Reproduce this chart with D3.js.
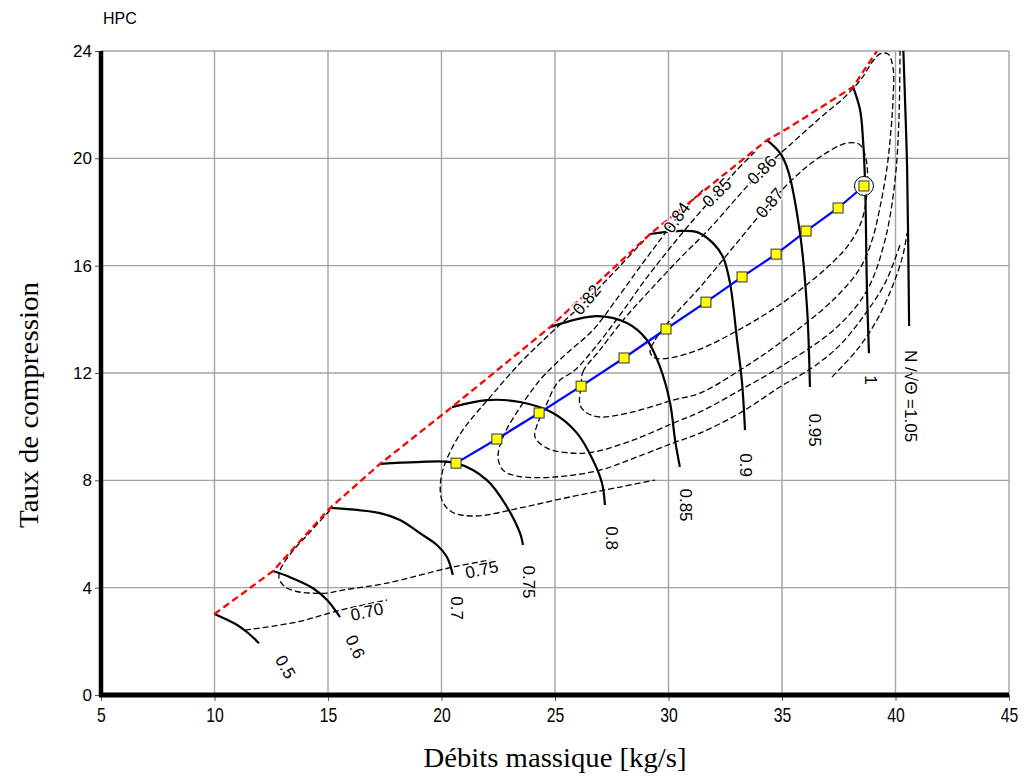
<!DOCTYPE html>
<html>
<head>
<meta charset="utf-8">
<script src="https://cdn.jsdelivr.net/npm/d3@7"></script>
<style>
  body { margin: 0; background: #fff; }
  svg { display: block; }
</style>
</head>
<body>
<svg id="chart" width="1026" height="778"></svg>
<script>
// ---- axis ticks ----
const xTicks = [5, 10, 15, 20, 25, 30, 35, 40, 45];
const yTicks = [0, 4, 8, 12, 16, 20, 24];

// ---- surge line (mass flow, pressure ratio) ----
const surgeLine = [[10.0, 3.02], [12.58, 4.62], [15.09, 6.97], [17.29, 8.61], [20.46, 10.73],
  [24.78, 13.71], [29.19, 17.18], [34.34, 20.68], [35.35, 21.17], [38.13, 22.66], [39.18, 24.0]];

// ---- corrected speed lines ----
const speed050 = [[10.0, 3.02], [11.0, 2.61], [11.48, 2.31], [11.96, 1.93]];
const speed060 = [[12.58, 4.62], [13.33, 4.39], [14.34, 3.98], [14.96, 3.54], [15.53, 2.90]];
const speed070 = [[15.09, 6.97], [17.29, 6.78], [18.17, 6.52], [19.05, 6.03], [19.8, 5.59], [20.24, 5.14], [20.5, 4.47]];
const speed075 = [[17.29, 8.61], [18.92, 8.68], [20.64, 8.64], [22.0, 8.01], [22.89, 7.0], [23.46, 6.03], [23.59, 5.59]];
const speed080 = [[20.46, 10.73], [22.0, 10.99], [23.46, 10.92], [24.91, 10.51], [25.97, 9.76], [26.67, 8.76], [27.07, 7.90], [27.2, 7.08]];
const speed085 = [[24.78, 13.71], [26.85, 14.12], [28.17, 13.86], [29.05, 13.23], [29.63, 12.22], [30.07, 10.88], [30.29, 9.5], [30.5, 8.5]];
const speed090 = [[29.19, 17.18], [30.37, 17.29], [31.26, 17.25], [31.96, 16.84], [32.4, 16.32], [32.71, 15.35], [33.02, 13.23], [33.24, 11.63], [33.37, 9.87]];
const speed095 = [[34.34, 20.68], [34.91, 20.2], [35.26, 19.56], [35.79, 17.22], [36.1, 14.46], [36.23, 11.48]];
const speed100 = [[38.13, 22.66], [38.44, 21.8], [38.57, 20.68], [38.66, 19.08], [38.74, 15.2], [38.83, 12.74]];
const speed105 = [[40.33, 24.4], [40.42, 22.17], [40.51, 19.68], [40.6, 13.75]];
const speedNames = ["0.5", "0.6", "0.7", "0.75", "0.8", "0.85", "0.9", "0.95", "1", "N /\u221A\u0398 =1.05"];
// label anchors (mass flow, pressure ratio)
const speedLabelAt = [[13.11, 1.04], [16.19, 1.79], [20.68, 3.24], [23.85, 4.21], [27.51, 5.85],
  [30.73, 7.08], [33.41, 8.57], [36.41, 9.87], [38.92, 11.74], [40.68, 11.14]];

// ---- isentropic efficiency contours ----
const eff070 = [[11.34, 2.42], [13.63, 2.72], [15.53, 3.16], [17.6, 3.54]];
const eff075 = [[15.09, 6.89], [14.21, 6.07], [13.41, 5.33], [12.93, 4.73], [12.84, 4.36], [13.06, 4.06], [13.55, 3.87],
  [14.21, 3.80], [14.96, 3.80], [15.66, 3.91], [17.6, 4.17], [20.51, 4.77], [22.14, 5.03]];
const eff082 = [[29.19, 17.18], [27.86, 15.99], [26.41, 14.72], [24.91, 13.56], [23.46, 12.37], [22.14, 11.10],
  [21.04, 9.99], [20.37, 9.05], [19.98, 8.09], [20.02, 7.26], [20.46, 6.82], [21.48, 6.67], [23.46, 6.97],
  [25.66, 7.38], [27.86, 7.75], [29.41, 8.01]];
const eff082b = [[37.20, 11.85], [38.30, 12.86], [39.18, 13.97], [39.89, 15.28], [40.33, 16.40], [40.51, 17.22]];
const eff084 = [[31.52, 18.82], [30.86, 18.26], [30.37, 17.78], [29.63, 16.96], [28.74, 15.95], [27.78, 14.83],
  [26.67, 13.60], [25.44, 12.67], [24.34, 11.74], [23.24, 10.43], [22.71, 9.61], [22.49, 8.87], [22.71, 8.38],
  [23.33, 8.16], [24.91, 8.12], [26.98, 8.38], [28.61, 8.87], [30.20, 9.39], [31.39, 9.76], [33.15, 10.51],
  [34.91, 11.48], [36.37, 12.22], [37.55, 13.04], [38.57, 14.09], [39.54, 15.35], [40.20, 16.77]];
const eff085 = [[33.81, 20.24], [32.93, 19.49], [32.14, 18.71], [31.17, 17.78], [30.07, 16.66], [28.96, 15.46],
  [27.86, 14.16], [26.85, 13.04], [25.88, 12.11], [25.13, 11.66], [24.56, 10.70], [24.21, 10.06], [24.12, 9.61],
  [24.65, 9.20], [25.66, 9.02], [26.67, 9.05], [28.44, 9.50], [30.20, 10.13], [31.39, 10.55], [33.15, 11.36],
  [34.91, 12.22], [37.42, 13.71], [38.75, 15.09], [39.54, 16.96], [39.98, 19.19], [40.15, 21.43], [40.20, 24.0]];
const eff086 = [[26.15, 11.51], [26.23, 12.04], [26.98, 12.86], [28.08, 14.05], [29.19, 15.09], [30.51, 16.28],
  [31.83, 17.40], [32.93, 18.45], [34.12, 19.56], [35.35, 20.50], [36.67, 21.50], [37.77, 22.29], [38.52, 22.99],
  [38.97, 23.59], [39.32, 23.89], [39.67, 23.89], [39.89, 23.37], [39.89, 22.17], [39.80, 21.06], [39.63, 19.68],
  [39.32, 18.19], [38.97, 16.96], [38.44, 15.91], [37.25, 14.72], [34.91, 13.12], [33.15, 12.11], [31.39, 11.25],
  [30.20, 10.99], [28.44, 10.55], [26.98, 10.36], [26.41, 10.51], [26.10, 10.81]];
const eff087 = [[29.19, 12.78], [29.41, 13.23], [30.15, 14.05], [31.39, 15.20], [32.93, 16.77], [34.47, 18.33],
  [35.57, 19.30], [36.67, 20.05], [37.86, 20.57], [38.44, 20.50], [38.71, 19.94], [38.75, 18.82], [38.52, 17.70],
  [37.99, 16.84], [37.25, 16.14], [35.79, 15.09], [34.34, 14.23], [32.84, 13.49], [31.39, 12.89], [30.07, 12.56],
  [29.41, 12.56]];
const effNames = ["0.70", "0.75", "0.82", "0.84", "0.85", "0.86", "0.87"];
const effLabelAt = [[16.72, 3.09], [21.78, 4.66], [26.41, 14.72], [30.37, 17.78], [32.14, 18.71], [34.12, 19.56], [34.47, 18.33]];

// ---- operating line ----
const operatingLine = [[20.64, 8.64], [22.44, 9.54], [24.30, 10.51], [26.15, 11.51], [28.04, 12.56], [29.89, 13.64],
  [31.65, 14.64], [33.24, 15.58], [34.74, 16.43], [36.06, 17.29], [37.47, 18.15], [38.61, 18.97]];
const designPoint = [38.61, 18.97];

// ---------------------------------------------------------------
const svg = d3.select("#chart");
const x = d3.scaleLinear().domain([5, 45]).range([101, 1009]);
const y = d3.scaleLinear().domain([0, 24]).range([695, 51]);
const sans = "Liberation Sans, Arial, sans-serif";
const serif = "Liberation Serif, Times New Roman, serif";

svg.append("defs").append("clipPath").attr("id", "plotClip")
  .append("rect")
  .attr("x", x(5)).attr("y", y(24))
  .attr("width", x(45) - x(5)).attr("height", y(0) - y(24));

// grid
const grid = svg.append("g").attr("stroke", "#a3a3a3").attr("stroke-width", 1.4);
grid.selectAll(".gx").data(xTicks).join("line").attr("class", "gx")
  .attr("x1", d => x(d)).attr("x2", d => x(d)).attr("y1", y(0)).attr("y2", y(24));
grid.selectAll(".gy").data(yTicks).join("line").attr("class", "gy")
  .attr("x1", x(5)).attr("x2", x(45)).attr("y1", d => y(d)).attr("y2", d => y(d));

const smooth = d3.line().x(d => x(d[0])).y(d => y(d[1])).curve(d3.curveCatmullRom.alpha(0.5));
const smoothClosed = d3.line().x(d => x(d[0])).y(d => y(d[1])).curve(d3.curveCatmullRomClosed.alpha(0.5));
const straight = d3.line().x(d => x(d[0])).y(d => y(d[1]));

const marks = svg.append("g").attr("clip-path", "url(#plotClip)");

// efficiency contours
const openContours = [eff070, eff075, eff082, eff082b, eff084, eff085];
marks.append("g").selectAll("path").data(openContours).join("path")
  .attr("d", smooth)
  .attr("fill", "none").attr("stroke", "#000").attr("stroke-width", 1.3)
  .attr("stroke-dasharray", "6,3");
marks.append("g").selectAll("path").data([eff086, eff087]).join("path")
  .attr("d", smoothClosed)
  .attr("fill", "none").attr("stroke", "#000").attr("stroke-width", 1.3)
  .attr("stroke-dasharray", "6,3");

// speed lines
const speedLines = [speed050, speed060, speed070, speed075, speed080, speed085, speed090, speed095, speed100, speed105];
marks.append("g").selectAll("path").data(speedLines).join("path")
  .attr("d", smooth)
  .attr("fill", "none").attr("stroke", "#000").attr("stroke-width", 2.2);

// surge line
marks.append("path").datum(surgeLine)
  .attr("d", straight)
  .attr("fill", "none").attr("stroke", "#ff0000").attr("stroke-width", 2.3)
  .attr("stroke-dasharray", "7,4");

// operating line
svg.append("path").datum(operatingLine)
  .attr("d", straight)
  .attr("fill", "none").attr("stroke", "#0000ff").attr("stroke-width", 2.2);
svg.append("circle")
  .attr("cx", x(designPoint[0])).attr("cy", y(designPoint[1])).attr("r", 9.5)
  .attr("fill", "#fff").attr("stroke", "#000").attr("stroke-width", 1);
svg.append("g").selectAll("rect").data(operatingLine).join("rect")
  .attr("x", d => x(d[0]) - 5).attr("y", d => y(d[1]) - 5)
  .attr("width", 10).attr("height", 10)
  .attr("fill", "#ffff00").attr("stroke", "#333").attr("stroke-width", 1);

// speed labels
const speedAngles = [60, 65, 90, 90, 90, 90, 90, 90, 90, 90];
svg.append("g").selectAll("text").data(speedNames).join("text")
  .attr("transform", (d, i) => `translate(${x(speedLabelAt[i][0])},${y(speedLabelAt[i][1])}) rotate(${speedAngles[i]})`)
  .attr("text-anchor", "middle").attr("dominant-baseline", "central")
  .attr("font-family", sans).attr("font-size", 17)
  .attr("fill", "#000")
  .text(d => d);

// efficiency labels
const effAngles = [-12, -12, -50, -55, -45, -45, -50];
svg.append("g").selectAll("text").data(effNames).join("text")
  .attr("transform", (d, i) => `translate(${x(effLabelAt[i][0])},${y(effLabelAt[i][1])}) rotate(${effAngles[i]})`)
  .attr("text-anchor", "middle").attr("dominant-baseline", "central")
  .attr("font-family", sans).attr("font-size", 17)
  .attr("fill", "#000")
  .attr("stroke", "#fff").attr("stroke-width", 2.5).attr("paint-order", "stroke")
  .text(d => d);

// axes
const yAxis = svg.append("g").attr("transform", `translate(${x(5)},0)`)
  .call(d3.axisLeft(y).tickValues(yTicks).tickSize(6).tickPadding(3).tickFormat(d3.format("d")));
yAxis.select(".domain").remove();
yAxis.selectAll(".tick line").attr("stroke", "#555");
yAxis.selectAll(".tick text")
  .attr("font-family", sans).attr("font-size", 17).attr("fill", "#000");

const xAxis = svg.append("g").attr("transform", `translate(0,${y(0)})`)
  .call(d3.axisBottom(x).tickValues(xTicks).tickSize(6).tickPadding(0).tickFormat(d3.format("d")));
xAxis.select(".domain").remove();
xAxis.selectAll(".tick line").attr("stroke", "#555");
xAxis.selectAll(".tick text")
  .attr("font-family", sans).attr("font-size", 21)
  .attr("fill", "#000")
  .attr("dy", null).attr("y", 0)
  .attr("transform", "translate(0,27) scale(0.75,1)");

// heavy axis lines
svg.append("line").attr("x1", x(5)).attr("x2", x(5)).attr("y1", y(24)).attr("y2", y(0) + 2)
  .attr("stroke", "#000").attr("stroke-width", 4.5);
svg.append("line").attr("x1", x(5) - 2).attr("x2", x(45)).attr("y1", y(0)).attr("y2", y(0))
  .attr("stroke", "#000").attr("stroke-width", 5);

// titles
svg.append("text").attr("x", 103).attr("y", 24)
  .attr("font-family", sans).attr("font-size", 16)
  .text("HPC");
svg.append("text").attr("x", (x(5) + x(45)) / 2).attr("y", 767)
  .attr("text-anchor", "middle")
  .attr("font-family", serif).attr("font-size", 27)
  .attr("textLength", 263).attr("lengthAdjust", "spacingAndGlyphs")
  .text("Débits massique [kg/s]");
svg.append("text").attr("transform", `translate(38,${(y(0) + y(24)) / 2 + 32}) rotate(-90)`)
  .attr("text-anchor", "middle")
  .attr("font-family", serif).attr("font-size", 27)
  .attr("textLength", 246).attr("lengthAdjust", "spacingAndGlyphs")
  .text("Taux de compression");
</script>
</body>
</html>
